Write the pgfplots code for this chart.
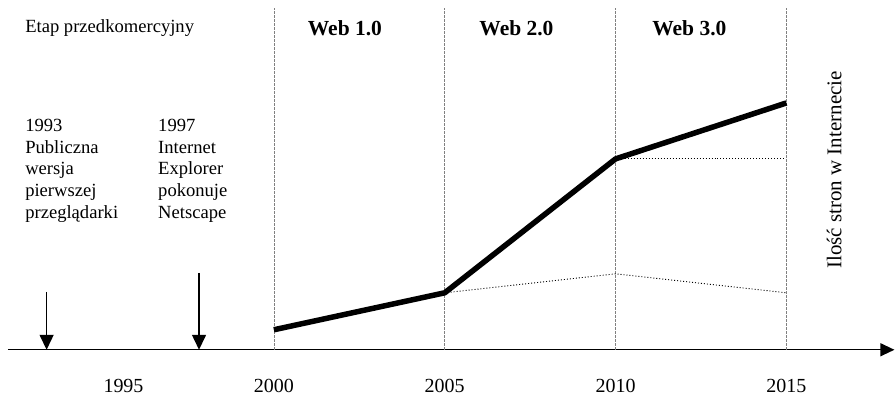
\documentclass[border=0pt]{standalone}
\usepackage{pgfplots}
\pgfplotsset{compat=1.18}
\usepackage{fontspec}
\setmainfont{Liberation Serif}
\usetikzlibrary{arrows.meta}
\newcommand{\fsz}{\fontsize{18.6}{21.7}\selectfont}
\newcommand{\fszt}{\fontsize{20}{22}\selectfont}
\newcommand{\fszb}{\fontsize{21.5}{23}\selectfont}
\newcommand{\fszr}{\fontsize{21}{23}\selectfont}
\begin{document}
\begin{tikzpicture}
\begin{axis}[
  scale only axis, width=887pt, height=395pt,
  xmin=1992.22, xmax=2018.16, ymin=-45, ymax=350,
  enlargelimits=false, clip=false,
  axis x line=middle, axis y line=none,
  x axis line style={line width=1.2pt, -{Triangle[length=14pt,width=13pt]}},
  xtick={1995.6,2000,2005,2010,2015},
  xticklabels={1995,2000,2005,2010,2015},
  major tick length=0pt,
  xticklabel style={font=\fszt, anchor=base, yshift=-43pt},
]
% bounding box
\path (axis cs:1991.986,-45) rectangle (axis cs:2018.16,350);
% period separators
\addplot[gray, line width=0.6pt, dash pattern=on 2.5pt off 1.5pt] coordinates {(2000,0) (2000,342)};
\addplot[gray, line width=0.6pt, dash pattern=on 2.5pt off 1.5pt] coordinates {(2005,0) (2005,342)};
\addplot[gray, line width=0.6pt, dash pattern=on 2.5pt off 1.5pt] coordinates {(2010,0) (2010,342)};
\addplot[gray, line width=0.6pt, dash pattern=on 2.5pt off 1.5pt] coordinates {(2015,0) (2015,342)};
% dotted lines
\addplot[black, line width=0.9pt, dash pattern=on 1pt off 2pt] coordinates {(2005,57) (2010,76) (2015,57)};
\addplot[black, line width=0.9pt, dash pattern=on 1pt off 2pt] coordinates {(2010,191) (2015,191)};
% main line
\addplot[black, line width=5.5pt, line join=round] coordinates {(2000,20) (2005,57) (2010,191) (2015,247)};
% event arrows
\addplot[black, line width=1.5pt, -{Triangle[length=15pt,width=14pt]}] coordinates {(1993.35,58) (1993.35,0)};
\addplot[black, line width=1.5pt, -{Triangle[length=15pt,width=14pt]}] coordinates {(1997.81,77) (1997.81,0)};
% texts
\node[anchor=west, inner sep=0pt, font=\fsz] at (axis cs:1992.72,322) {Etap przedkomercyjny};
\node[font=\fszb\bfseries] at (axis cs:2002.08,322) {Web 1.0};
\node[font=\fszb\bfseries] at (axis cs:2007.10,322) {Web 2.0};
\node[font=\fszb\bfseries] at (axis cs:2012.16,322) {Web 3.0};
\node[anchor=north west, align=left, inner sep=0pt, font=\fsz] at (axis cs:1992.72,231) {1993\\Publiczna\\wersja\\pierwszej\\przeglądarki};
\node[anchor=north west, align=left, inner sep=0pt, font=\fsz] at (axis cs:1996.61,231) {1997\\Internet\\Explorer\\pokonuje\\Netscape};
\node[rotate=90, font=\fszr] at (axis cs:2016.40,180) {Ilość stron w Internecie};
\end{axis}
\end{tikzpicture}
\end{document}
